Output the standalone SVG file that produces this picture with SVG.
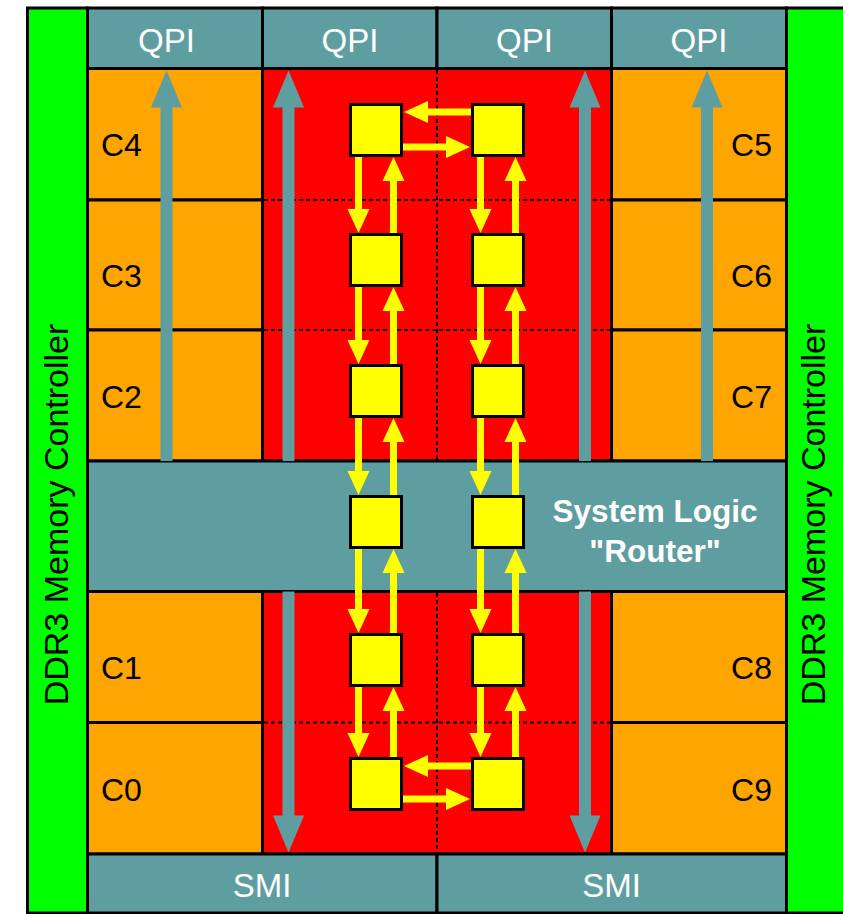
<svg xmlns="http://www.w3.org/2000/svg" width="843" height="914" viewBox="0 0 843 914">
<defs>
<style>
.cell{stroke:#000;stroke-width:3}
.or{fill:#FFA500}
.gy{fill:#5F9EA0}
.gr{fill:#00FF00}
.rd{fill:#FF0000}
.dash{stroke:#000;stroke-width:2;stroke-dasharray:4 3;fill:none}
.yl{stroke:#FFFF00;stroke-width:7;fill:none;marker-end:url(#ya)}
.ga{stroke:#5F9EA0;stroke-width:12;fill:none;marker-end:url(#gah)}
.box{fill:#FFFF00;stroke:#000;stroke-width:3}
.lbl{font-family:"Liberation Sans",Arial,sans-serif;font-size:32px;fill:#000}
.wt{font-family:"Liberation Sans",Arial,sans-serif;font-size:33px;fill:#fff;text-anchor:middle}
.sys{font-family:"Liberation Sans",Arial,sans-serif;font-size:31.5px;font-weight:bold;fill:#fff;text-anchor:middle}
.ddr{font-family:"Liberation Sans",Arial,sans-serif;font-size:34px;fill:#000;text-anchor:middle}
</style>
<marker id="ya" markerUnits="userSpaceOnUse" markerWidth="25" markerHeight="22" refX="0.5" refY="11" orient="auto" overflow="visible"><path d="M0,0 L24,11 L0,22 Z" fill="#FFFF00"/></marker>
<marker id="gah" markerUnits="userSpaceOnUse" markerWidth="38" markerHeight="31" refX="0.5" refY="15.5" orient="auto" overflow="visible"><path d="M0,0 L37,15.5 L0,31 Z" fill="#5F9EA0"/></marker>
</defs>
<rect x="0" y="0" width="843" height="914" fill="#fff"/>

<g id="ddr-left"><rect class="cell gr" x="27.5" y="8" width="60" height="905"/><text class="ddr" transform="translate(67.5,514.5) rotate(-90)" x="0" y="0">DDR3 Memory Controller</text></g>
<g id="ddr-right"><rect class="cell gr" x="786.5" y="8" width="70" height="905"/><text class="ddr" transform="translate(825,514.5) rotate(-90)" x="0" y="0">DDR3 Memory Controller</text></g>

<g id="qpi1"><rect class="cell gy" x="87.5" y="8" width="175" height="60.5"/><text class="wt" x="166.5" y="52">QPI</text></g>
<g id="qpi2"><rect class="cell gy" x="262.5" y="8" width="174.5" height="60.5"/><text class="wt" x="350" y="52">QPI</text></g>
<g id="qpi3"><rect class="cell gy" x="437" y="8" width="174.5" height="60.5"/><text class="wt" x="524.5" y="52">QPI</text></g>
<g id="qpi4"><rect class="cell gy" x="611.5" y="8" width="175" height="60.5"/><text class="wt" x="699" y="52">QPI</text></g>

<g id="red-top"><rect class="cell rd" x="262.5" y="68.5" width="349" height="392.5"/>
<line class="dash" x1="437" y1="70" x2="437" y2="460"/>
<line class="dash" x1="264" y1="200" x2="610" y2="200"/>
<line class="dash" x1="264" y1="330" x2="610" y2="330"/></g>
<g id="red-bottom"><rect class="cell rd" x="262.5" y="591.5" width="349" height="262.5"/>
<line class="dash" x1="437" y1="593" x2="437" y2="853"/>
<line class="dash" x1="264" y1="722.5" x2="610" y2="722.5"/></g>

<g id="c4"><rect class="cell or" x="87.5" y="68.5" width="175" height="131.5"/><text class="lbl" x="101" y="156">C4</text></g>
<g id="c3"><rect class="cell or" x="87.5" y="200" width="175" height="130"/><text class="lbl" x="101" y="287">C3</text></g>
<g id="c2"><rect class="cell or" x="87.5" y="330" width="175" height="131"/><text class="lbl" x="101" y="408">C2</text></g>
<g id="c1"><rect class="cell or" x="87.5" y="591.5" width="175" height="131"/><text class="lbl" x="101" y="679">C1</text></g>
<g id="c0"><rect class="cell or" x="87.5" y="722.5" width="175" height="131.5"/><text class="lbl" x="101" y="801">C0</text></g>
<g id="c5"><rect class="cell or" x="611.5" y="68.5" width="175" height="131.5"/><text class="lbl" x="772" y="156" text-anchor="end">C5</text></g>
<g id="c6"><rect class="cell or" x="611.5" y="200" width="175" height="130"/><text class="lbl" x="772" y="287" text-anchor="end">C6</text></g>
<g id="c7"><rect class="cell or" x="611.5" y="330" width="175" height="131"/><text class="lbl" x="772" y="408" text-anchor="end">C7</text></g>
<g id="c8"><rect class="cell or" x="611.5" y="591.5" width="175" height="131"/><text class="lbl" x="772" y="679" text-anchor="end">C8</text></g>
<g id="c9"><rect class="cell or" x="611.5" y="722.5" width="175" height="131.5"/><text class="lbl" x="772" y="801" text-anchor="end">C9</text></g>

<g id="system-logic"><rect class="cell gy" x="87.5" y="461" width="699" height="130.5"/><text class="sys" x="655" y="522">System Logic</text><text class="sys" x="655" y="562">"Router"</text></g>

<g id="smi1"><rect class="cell gy" x="87.5" y="854" width="349.5" height="59"/><text class="wt" x="262" y="897">SMI</text></g>
<g id="smi2"><rect class="cell gy" x="437" y="854" width="349.5" height="59"/><text class="wt" x="611.5" y="897">SMI</text></g>

<g id="connectors">
<line class="ga" x1="166.5" y1="461" x2="166.5" y2="107"/>
<line class="ga" x1="288.5" y1="461" x2="288.5" y2="107"/>
<line class="ga" x1="585" y1="461" x2="585" y2="107"/>
<line class="ga" x1="707" y1="461" x2="707" y2="107"/>
<line class="ga" x1="288.5" y1="591.5" x2="288.5" y2="816"/>
<line class="ga" x1="585" y1="591.5" x2="585" y2="816"/>

<line class="yl" x1="471" y1="112" x2="427.5" y2="112"/>
<line class="yl" x1="403" y1="147" x2="446.5" y2="147"/>
<line class="yl" x1="471" y1="766" x2="427.5" y2="766"/>
<line class="yl" x1="403" y1="799" x2="446.5" y2="799"/>

<line class="yl" x1="358.5" y1="157" x2="358.5" y2="209.5"/>
<line class="yl" x1="393.5" y1="233" x2="393.5" y2="180.5"/>
<line class="yl" x1="480.5" y1="157" x2="480.5" y2="209.5"/>
<line class="yl" x1="515.5" y1="233" x2="515.5" y2="180.5"/>

<line class="yl" x1="358.5" y1="287" x2="358.5" y2="340.5"/>
<line class="yl" x1="393.5" y1="364" x2="393.5" y2="310.5"/>
<line class="yl" x1="480.5" y1="287" x2="480.5" y2="340.5"/>
<line class="yl" x1="515.5" y1="364" x2="515.5" y2="310.5"/>

<line class="yl" x1="358.5" y1="418" x2="358.5" y2="471.5"/>
<line class="yl" x1="393.5" y1="495" x2="393.5" y2="441.5"/>
<line class="yl" x1="480.5" y1="418" x2="480.5" y2="471.5"/>
<line class="yl" x1="515.5" y1="495" x2="515.5" y2="441.5"/>

<line class="yl" x1="358.5" y1="549" x2="358.5" y2="609.5"/>
<line class="yl" x1="393.5" y1="633" x2="393.5" y2="572.5"/>
<line class="yl" x1="480.5" y1="549" x2="480.5" y2="609.5"/>
<line class="yl" x1="515.5" y1="633" x2="515.5" y2="572.5"/>

<line class="yl" x1="358.5" y1="687" x2="358.5" y2="733.5"/>
<line class="yl" x1="393.5" y1="757" x2="393.5" y2="710.5"/>
<line class="yl" x1="480.5" y1="687" x2="480.5" y2="733.5"/>
<line class="yl" x1="515.5" y1="757" x2="515.5" y2="710.5"/>
</g>

<g id="r1l"><rect class="box" x="350.5" y="104.5" width="51" height="51"/></g>
<g id="r1r"><rect class="box" x="472.5" y="104.5" width="51" height="51"/></g>
<g id="r2l"><rect class="box" x="350.5" y="234.5" width="51" height="51"/></g>
<g id="r2r"><rect class="box" x="472.5" y="234.5" width="51" height="51"/></g>
<g id="r3l"><rect class="box" x="350.5" y="365.5" width="51" height="51"/></g>
<g id="r3r"><rect class="box" x="472.5" y="365.5" width="51" height="51"/></g>
<g id="r4l"><rect class="box" x="350.5" y="496.5" width="51" height="51"/></g>
<g id="r4r"><rect class="box" x="472.5" y="496.5" width="51" height="51"/></g>
<g id="r5l"><rect class="box" x="350.5" y="634.5" width="51" height="51"/></g>
<g id="r5r"><rect class="box" x="472.5" y="634.5" width="51" height="51"/></g>
<g id="r6l"><rect class="box" x="350.5" y="758.5" width="51" height="51"/></g>
<g id="r6r"><rect class="box" x="472.5" y="758.5" width="51" height="51"/></g>
</svg>
